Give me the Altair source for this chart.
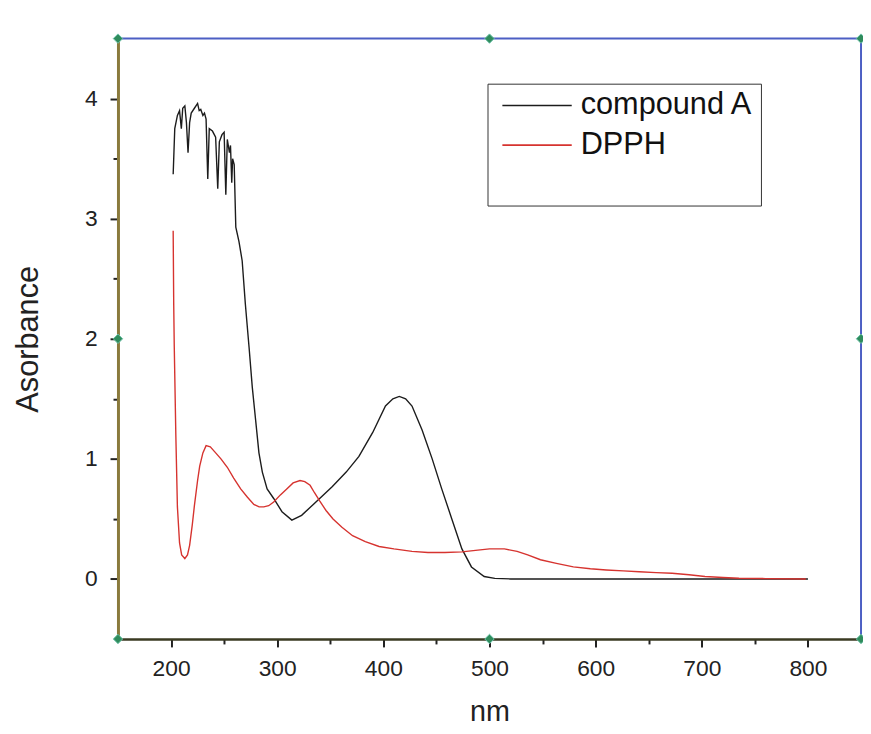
import altair as alt
import pandas as pd

# ---------------- data ----------------
wl_a = [202, 203.5, 206, 208, 209.7, 211, 213, 214.5, 216, 217.5, 219, 222, 225, 226.5,
        228, 230, 231.5, 233, 234.6, 236, 239, 242, 244, 245.5, 248, 250, 251.6, 253,
        255, 256, 257.2, 258, 259.5, 261, 262.5, 264, 267, 270, 273.5, 276.5, 279.6,
        282.8, 286, 290.5, 296.7, 304.5, 313.8, 323, 334, 340, 352, 365, 377, 390,
        402, 409, 415, 421, 427, 436.5, 446, 455, 464.5, 474, 483, 495, 505, 520,
        600, 700, 800]
abs_a = [3.37, 3.75, 3.86, 3.90, 3.75, 3.92, 3.94, 3.80, 3.55, 3.80, 3.88, 3.92, 3.96, 3.90,
         3.91, 3.86, 3.88, 3.83, 3.33, 3.75, 3.73, 3.68, 3.25, 3.64, 3.70, 3.72, 3.20, 3.66,
         3.55, 3.61, 3.30, 3.50, 3.45, 2.93, 2.87, 2.81, 2.65, 2.29, 1.93, 1.60, 1.33,
         1.05, 0.89, 0.75, 0.67, 0.56, 0.49, 0.53, 0.62, 0.67, 0.77, 0.89, 1.02, 1.22,
         1.44, 1.50, 1.52, 1.50, 1.44, 1.24, 1.00, 0.75, 0.50, 0.25, 0.10, 0.02, 0.005, 0.0,
         0.0, 0.0, 0.0]

wl_d = [202, 202.5, 203, 203.5, 204.5, 206, 208, 210, 213, 215.5, 217.5, 220, 222, 225,
        227, 230, 233, 237, 241, 247, 253, 259, 265.6, 272, 278, 283, 287.4, 292, 296.7,
        303, 309, 315, 321.5, 326, 331, 335, 340, 346, 352.6, 361, 371, 383, 396, 410,
        427, 442, 458, 474, 489, 500, 514, 526, 536, 548, 563, 579, 595, 610, 626, 641,
        657, 672, 688, 703, 720, 735, 760, 798]
abs_d = [2.90, 2.30, 1.95, 1.70, 1.20, 0.60, 0.30, 0.20, 0.17, 0.20, 0.28, 0.45, 0.61, 0.82,
         0.94, 1.05, 1.11, 1.10, 1.06, 1.00, 0.93, 0.84, 0.75, 0.68, 0.62, 0.60, 0.60, 0.61, 0.64,
         0.70, 0.75, 0.80, 0.82, 0.81, 0.78, 0.72, 0.65, 0.57, 0.50, 0.43, 0.36, 0.31, 0.27, 0.25,
         0.23, 0.22, 0.22, 0.225, 0.24, 0.25, 0.25, 0.23, 0.20, 0.16, 0.13, 0.10, 0.085, 0.075, 0.067, 0.06,
         0.053, 0.047, 0.035, 0.02, 0.012, 0.006, 0.003, 0.0]

series_names = ["compound A", "DPPH"]
series_colors = ["#1c1c1c", "#d6332f"]

x_ticks = [200, 250, 300, 350, 400, 450, 500, 550, 600, 650, 700, 750, 800]
y_ticks = [0, 0.5, 1, 1.5, 2, 2.5, 3, 3.5, 4]

x_domain = [150, 850]
y_domain = [-0.5, 4.5]

handle_x = [150, 500, 850, 150, 850, 150, 500, 850]
handle_y = [-0.5, -0.5, -0.5, 2, 2, 4.5, 4.5, 4.5]

# ---------------- tables ----------------
df = pd.concat([
    pd.DataFrame({"nm": wl_a, "abs": abs_a, "series": series_names[0]}),
    pd.DataFrame({"nm": wl_d, "abs": abs_d, "series": series_names[1]}),
], ignore_index=True)

top_df = pd.DataFrame({"x": [x_domain[0]], "x2": [x_domain[1]], "y": [y_domain[1]]})
right_df = pd.DataFrame({"x": [x_domain[1]], "y": [y_domain[0]], "y2": [y_domain[1]]})
handles_df = pd.DataFrame({"x": handle_x, "y": handle_y})

FONT = "Liberation Sans"
x_scale = alt.Scale(domain=x_domain, nice=False, zero=False)
y_scale = alt.Scale(domain=y_domain, nice=False, zero=False)

x_axis = alt.Axis(
    values=x_ticks, title="nm",
    labelExpr="datum.value % 100 === 0 ? format(datum.value, 'd') : ''",
    labelFont=FONT, labelFontSize=23, labelColor="#222", labelPadding=11,
    labelOverlap=False,
    tickSize={"condition": {"test": "datum.value % 100 === 0", "value": 8}, "value": 5},
    tickColor="#222", tickWidth=2,
    domainColor="#3a3a22", domainWidth=2.5,
    grid=False,
    titleFont=FONT, titleFontSize=29, titleFontWeight="normal", titleColor="#222",
    titleBaseline="alphabetic", titleY=82, titleX=375,
)
y_axis = alt.Axis(
    values=y_ticks, title="Asorbance",
    labelExpr="datum.value % 1 === 0 ? format(datum.value, 'd') : ''",
    labelFont=FONT, labelFontSize=23, labelColor="#222", labelPadding=13,
    labelOverlap=False,
    tickSize={"condition": {"test": "datum.value % 1 === 0", "value": 8}, "value": 5},
    tickColor="#222", tickWidth=2,
    domainColor="#8a7a3c", domainWidth=3,
    grid=False,
    titleFont=FONT, titleFontSize=31, titleFontWeight="normal", titleColor="#222",
    titleX=-74, titleY=303, titleBaseline="bottom", titleAngle=-90,
)

lines = alt.Chart(df).mark_line(strokeWidth=1.4, clip=True).encode(
    x=alt.X("nm:Q", scale=x_scale, axis=x_axis),
    y=alt.Y("abs:Q", scale=y_scale, axis=y_axis),
    color=alt.Color(
        "series:N",
        scale=alt.Scale(domain=series_names, range=series_colors),
        legend=alt.Legend(
            title=" ", titleOrient="bottom", titleFontSize=26, titlePadding=13,
            orient="none", legendX=373, legendY=45.5,
            strokeColor="#333", fillColor="white",
            padding=7, symbolOffset=7, symbolType="stroke", symbolSize=4900,
            symbolStrokeWidth=1.6, labelFont=FONT, labelFontSize=31, labelColor="#111",
            labelOffset=8, rowPadding=9, clipHeight=30, labelLimit=400,
        ),
    ),
    detail="series:N",
)

top_rule = alt.Chart(top_df).mark_rule(color="#4c5fc4", strokeWidth=2).encode(
    x=alt.X("x:Q", scale=x_scale), x2="x2:Q", y=alt.Y("y:Q", scale=y_scale)
)
right_rule = alt.Chart(right_df).mark_rule(color="#4c5fc4", strokeWidth=2).encode(
    x=alt.X("x:Q", scale=x_scale), y=alt.Y("y:Q", scale=y_scale), y2="y2:Q"
)
handles = alt.Chart(handles_df).mark_point(
    shape="diamond", filled=True, size=90, color="#2f8c5c", stroke="#6cc0a8",
    strokeWidth=1, opacity=1
).encode(x=alt.X("x:Q", scale=x_scale), y=alt.Y("y:Q", scale=y_scale))

chart = alt.layer(lines, top_rule, right_rule, handles).properties(
    width=750, height=606,
    padding={"left": 111, "top": 27.5, "right": 2, "bottom": 90},
    autosize=alt.AutoSizeParams(type="none"),
    background="white",
).configure_view(stroke=None)

chart.save("out.html", embed_options={"renderer": "svg", "actions": False})
